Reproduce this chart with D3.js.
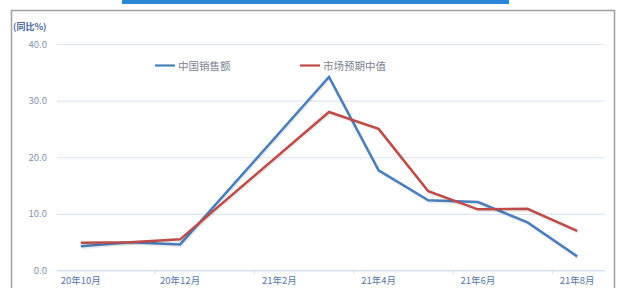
<!DOCTYPE html>
<html lang="en">
<head>
  <meta charset="UTF-8">
  <title>中国销售额 vs 市场预期中值</title>
  <script src="https://d3js.org/d3.v7.min.js"></script>
  <style>
    body { margin: 0; background: #fff; }
    text { font-family: "Noto Sans CJK SC", "DejaVu Sans", sans-serif; }
  </style>
</head>
<body>
  <div id="chart"></div>
  <script>
    // months on the category axis (Jan / Feb 2021 not reported separately)
    const months = ['20年10月', '20年11月', '20年12月', '21年1月', '21年2月', '21年3月',
                    '21年4月', '21年5月', '21年6月', '21年7月', '21年8月'];
    const tickLabels = ['20年10月', '20年12月', '21年2月', '21年4月', '21年6月', '21年8月'];
    const yTicks = [0, 10, 20, 30, 40];

    // 同比 %, null = no data point
    const chinaSales = [4.3, 5.0, 4.6, null, null, 34.2, 17.7, 12.4, 12.1, 8.5, 2.5];
    const marketMedian = [4.9, 5.0, 5.5, null, null, 28.0, 25.0, 14.0, 10.8, 10.9, 7.0];

    const seriesNames = ['中国销售额', '市场预期中值'];
    const seriesColors = ['#4a7ebb', '#be4b48'];

    const W = 622, H = 288;
    const svg = d3.select('#chart')
      .append('svg')
      .attr('width', W)
      .attr('height', H);

    // top banner strip
    svg.append('rect')
      .attr('x', 122).attr('y', 0)
      .attr('width', 387).attr('height', 4)
      .attr('fill', '#2a86d6');

    // chart frame
    svg.append('rect')
      .attr('x', 11.5).attr('y', 10.5)
      .attr('width', 603).attr('height', 290)
      .attr('fill', 'none')
      .attr('stroke', '#a0a0a0')
      .attr('stroke-width', 1.5);

    const x = d3.scaleBand().domain(months).range([56, 602]).padding(0);
    const y = d3.scaleLinear().domain([0, 40]).range([270.5, 44]);

    // y axis + gridlines
    const yAxis = svg.append('g')
      .attr('transform', 'translate(57,0)')
      .call(d3.axisLeft(y).tickValues(yTicks).tickFormat(d3.format('.1f'))
        .tickSize(-548).tickPadding(10));
    yAxis.select('.domain').remove();
    yAxis.selectAll('.tick line').attr('stroke', '#dbe7f4').attr('stroke-width', 1.2);
    yAxis.selectAll('.tick text')
      .attr('fill', '#8190ad')
      .attr('font-size', 9.5);

    // x axis
    const xAxis = svg.append('g')
      .attr('transform', 'translate(0,270.5)')
      .call(d3.axisBottom(x)
        .tickValues(tickLabels)
        .tickSize(0)
        .tickPadding(7));
    xAxis.select('.domain').attr('stroke', '#cfdff0').attr('d', 'M57,0H605');
    xAxis.selectAll('.tick text')
      .attr('fill', '#5676a8')
      .attr('font-size', 9.5);
    // small tick marks between categories
    svg.append('g')
      .selectAll('line')
      .data(months.filter((d, i) => i % 2 === 0 && i > 0))
      .enter()
      .append('line')
      .attr('x1', d => x(d)).attr('x2', d => x(d))
      .attr('y1', 270.5).attr('y2', 274)
      .attr('stroke', '#cfdff0');

    // y unit label
    svg.append('text')
      .attr('x', 13).attr('y', 30)
      .attr('font-size', 9)
      .attr('font-weight', 'bold')
      .attr('fill', '#4d6aa0')
      .text('(同比%)');

    // lines (gaps connected, as in the original chart)
    const line = d3.line()
      .x(d => x(d.m) + x.bandwidth() / 2)
      .y(d => y(d.v));

    [chinaSales, marketMedian].forEach((vals, k) => {
      const pts = months.map((m, i) => ({ m, v: vals[i] })).filter(d => d.v !== null);
      // soft shadow
      svg.append('path')
        .datum(pts)
        .attr('d', line)
        .attr('transform', 'translate(0.8,1.5)')
        .attr('fill', 'none')
        .attr('stroke', '#000')
        .attr('stroke-opacity', 0.08)
        .attr('stroke-width', 3);
      svg.append('path')
        .datum(pts)
        .attr('d', line)
        .attr('fill', 'none')
        .attr('stroke', seriesColors[k])
        .attr('stroke-width', 2.5)
        .attr('stroke-linejoin', 'miter');
    });

    // legend
    const legendX = [155, 300];
    seriesNames.forEach((name, k) => {
      svg.append('line')
        .attr('x1', legendX[k]).attr('x2', legendX[k] + 20)
        .attr('y1', 65.5).attr('y2', 65.5)
        .attr('stroke', seriesColors[k])
        .attr('stroke-width', 2.2);
      svg.append('text')
        .attr('x', legendX[k] + 23).attr('y', 69.5)
        .attr('font-size', 10.5)
        .attr('fill', '#7c8294')
        .text(name);
    });
  </script>
</body>
</html>
